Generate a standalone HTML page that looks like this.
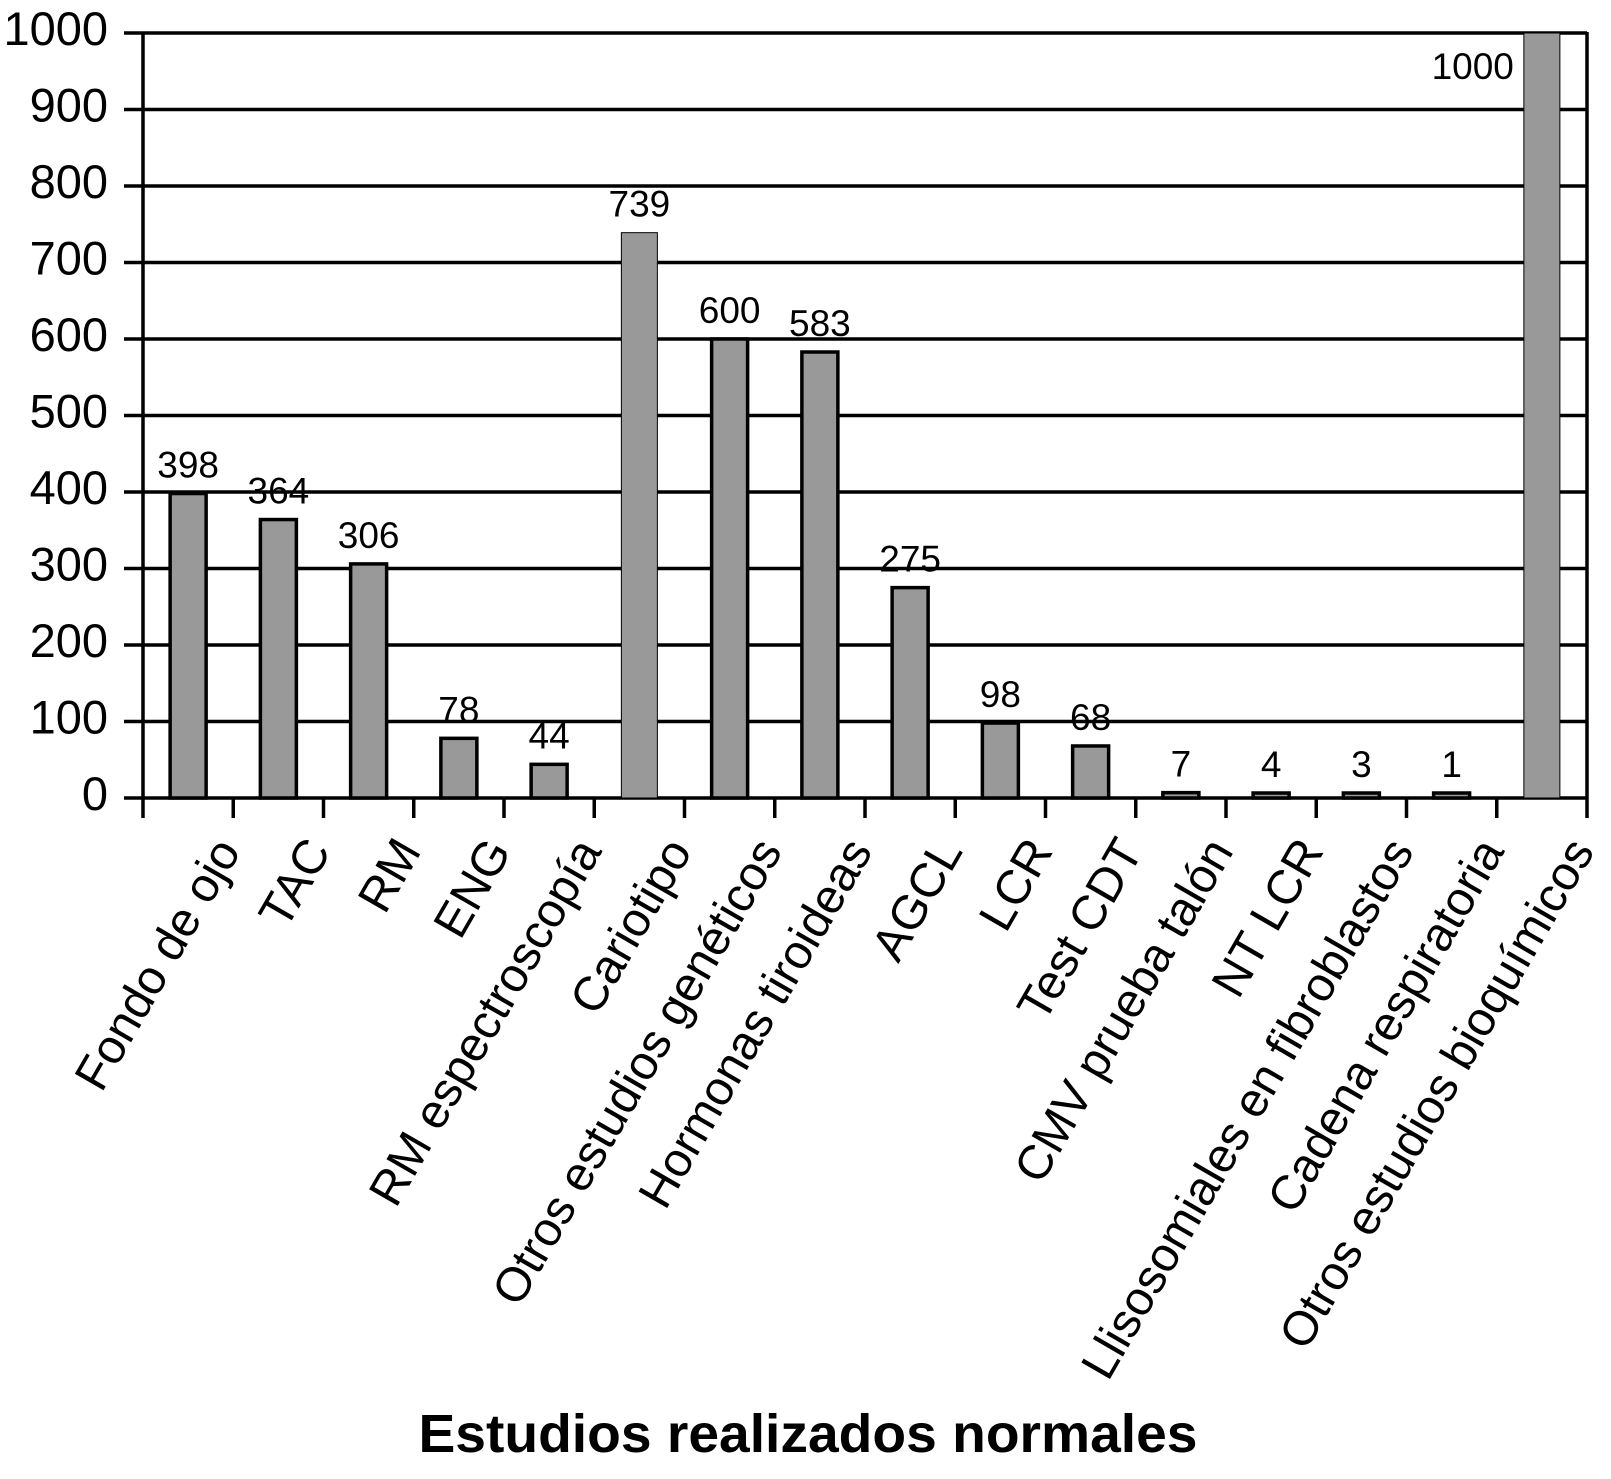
<!DOCTYPE html>
<html><head><meta charset="utf-8"><style>
html,body{margin:0;padding:0;background:#fff;}
svg{display:block;font-family:"Liberation Sans",Arial,sans-serif;}
</style></head><body>
<svg id="chart" width="1611" height="1479" viewBox="0 0 1611 1479" xmlns="http://www.w3.org/2000/svg"></svg>
<script>
const categories = ["Fondo de ojo","TAC","RM","ENG","RM espectroscopía","Cariotipo","Otros estudios genéticos","Hormonas tiroideas","AGCL","LCR","Test CDT","CMV prueba talón","NT LCR","Llisosomiales en fibroblastos","Cadena respiratoria","Otros estudios bioquímicos"];
const values = [398,364,306,78,44,739,600,583,275,98,68,7,4,3,1,1000];
const highlighted = [false,false,false,false,false,true,false,false,false,false,false,false,false,false,false,true];
const yTicks = [0,100,200,300,400,500,600,700,800,900,1000];

const NS = "http://www.w3.org/2000/svg";
const svg = document.getElementById('chart');
const L = 143, R = 1587, Y0 = 798, Y1 = 33, YMAX = 1000;
const bw = (R - L) / categories.length;
function x(i){ return L + bw * (i + 0.5); }
function y(v){ return Y0 - (v / YMAX) * (Y0 - Y1); }
function mk(tag, attrs){ const e = document.createElementNS(NS, tag); for (const k in attrs) e.setAttribute(k, attrs[k]); svg.appendChild(e); return e; }

yTicks.forEach(t => {
  const g = mk('line', {x1:124, x2:R, y1:y(t), y2:y(t), stroke:'#000', 'stroke-width':3.5});
  
  
  const tx = mk('text', {x:108, y:y(t) + 12, 'text-anchor':'end', 'font-size':47});
  tx.textContent = t;
  
  
});

const ya = mk('line', {x1:L, x2:L, y1:Y1 - 1, y2:818, stroke:'#000', 'stroke-width':3.5});


const ra = mk('line', {x1:R, x2:R, y1:Y1 - 1, y2:818, stroke:'#000', 'stroke-width':3.5});



for (let i = 1; i < categories.length; i++) {
  const tk = mk('line', {x1:L + bw * i, x2:L + bw * i, y1:Y0, y2:818, stroke:'#000', 'stroke-width':3.5});
  
  
}

categories.forEach((c, i) => {
  const v = values[i];
  const w = 36;
  const top = Math.min(y(v), Y0 - 5);
  const b = mk('rect', {x:x(i) - w / 2, y:top, width:w, height:Y0 - top, fill:'#999',
    stroke:'#000', 'stroke-width': highlighted[i] ? 1 : 3.5});
  
  

  let lx = x(i), ly = top - 16, anchor = 'middle';
  if (v >= YMAX) { lx = x(i) - 28; ly = 79; anchor = 'end'; }
  const lb = mk('text', {x:lx, y:ly, 'text-anchor':anchor, 'font-size':37});
  lb.textContent = v;
  
  

  const cl = mk('text', {transform:'translate(' + (x(i) + 24) + ',834) rotate(-60)', 'text-anchor':'end', 'font-size':48, dy:34});
  cl.textContent = c;
  
  
});

const title = mk('text', {x:808, y:1452, 'text-anchor':'middle', 'font-size':54, 'font-weight':'bold', textLength:779, lengthAdjust:'spacingAndGlyphs'});
title.textContent = 'Estudios realizados normales';


</script>
</body></html>
